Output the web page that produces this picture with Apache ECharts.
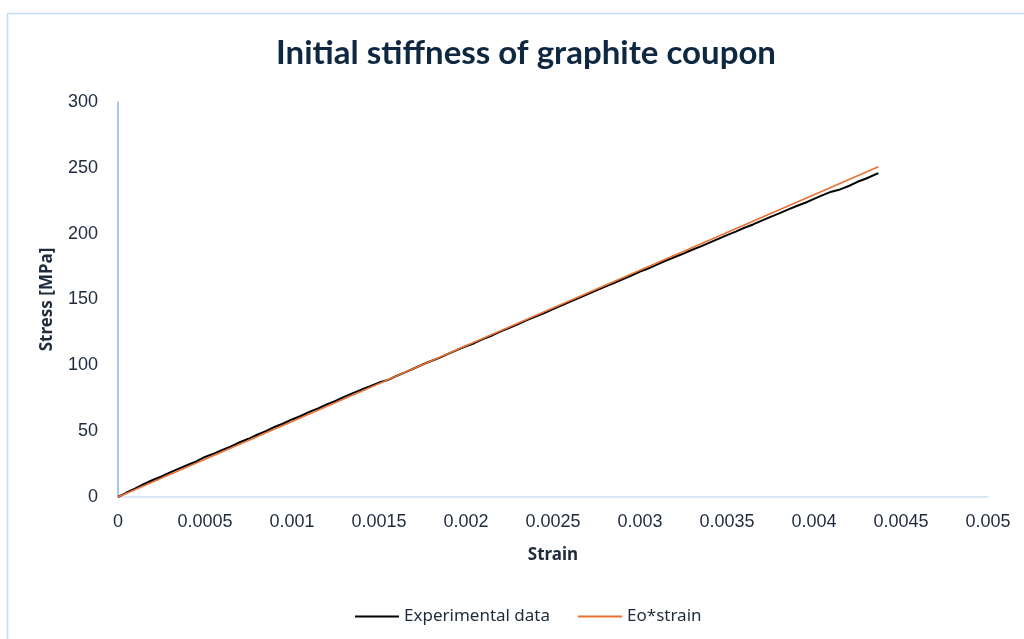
<!DOCTYPE html>
<html>
<head>
<meta charset="utf-8">
<script src="https://cdn.jsdelivr.net/npm/echarts@6/dist/echarts.min.js"></script>
<style>
  html, body { margin: 0; padding: 0; background: #ffffff; }
  #chart { width: 1024px; height: 639px; }
</style>
</head>
<body>
<div id="chart"></div>
<script>
// Strain readings of the coupon and the measured stress [MPa]
const strain = [
  0, 0.00005, 0.0001, 0.00015, 0.0002, 0.00025, 0.0003, 0.00035, 0.0004, 0.00045,
  0.0005, 0.00055, 0.0006, 0.00065, 0.0007, 0.00075, 0.0008, 0.00085, 0.0009, 0.00095,
  0.0010, 0.00105, 0.0011, 0.00115, 0.0012, 0.00125, 0.0013, 0.00135, 0.0014, 0.00145,
  0.0015, 0.00155, 0.0016, 0.00165, 0.0017, 0.00175, 0.0018, 0.00185, 0.0019, 0.00195,
  0.0020, 0.00205, 0.0021, 0.00215, 0.0022, 0.00225, 0.0023, 0.00235, 0.0024, 0.00245,
  0.0025, 0.00255, 0.0026, 0.00265, 0.0027, 0.00275, 0.0028, 0.00285, 0.0029, 0.00295,
  0.0030, 0.00305, 0.0031, 0.00315, 0.0032, 0.00325, 0.0033, 0.00335, 0.0034, 0.00345,
  0.0035, 0.00355, 0.0036, 0.00365, 0.0037, 0.00375, 0.0038, 0.00385, 0.0039, 0.00395,
  0.0040, 0.00405, 0.0041, 0.00415, 0.0042, 0.00425, 0.0043, 0.00437
];
const experimentalStress = [
  0, 3.4, 6.6, 9.9, 12.9, 15.6, 18.7, 21.6, 24.3, 27.0,
  30.4, 32.9, 35.8, 38.5, 41.6, 44.2, 47.3, 50.0, 53.2, 55.8,
  58.9, 61.5, 64.6, 67.2, 70.3, 72.9, 76.0, 78.9, 81.6, 84.1,
  86.9, 88.8, 91.9, 94.6, 97.6, 100.6, 103.3, 105.9, 108.9, 111.8,
  114.5, 117.0, 120.1, 122.7, 125.8, 128.4, 131.3, 134.3, 137.1, 139.7,
  142.8, 145.5, 148.5, 151.2, 154.2, 156.9, 159.8, 162.4, 165.4, 168.1,
  171.2, 173.7, 176.7, 179.6, 182.3, 184.8, 187.8, 190.4, 193.2, 196.0,
  198.9, 201.6, 204.5, 207.0, 209.9, 212.8, 215.4, 218.2, 221.0, 223.5,
  226.4, 229.3, 231.9, 233.6, 236.2, 239.4, 241.9, 246.0
];
// Linear elastic line Eo*strain (Eo = 57.4 GPa)
const fitStrain = [0, 0.001, 0.002, 0.003, 0.004, 0.00437];
const fitStress = [0, 57.4, 114.8, 172.2, 229.6, 250.84];

const xTicks = { min: 0, max: 0.005, interval: 0.0005 };
const yTicks = { min: 0, max: 300, interval: 50 };
const seriesNames = ['Experimental data', 'Eo*strain'];

const textColor = '#1e2b3c';
const pairs = (xs, ys) => xs.map((x, i) => [x, ys[i]]);

const chart = echarts.init(document.getElementById('chart'), null, { renderer: 'canvas' });
chart.setOption({
  animation: false,
  backgroundColor: '#ffffff',
  title: {
    text: 'Initial stiffness of graphite coupon',
    left: 521,
    top: 32,
    textAlign: 'center',
    textStyle: { fontFamily: 'Lato', fontWeight: 'bold', fontSize: 33, color: '#0e2841' }
  },
  graphic: [{
    type: 'rect',
    shape: { x: 7.5, y: 13.5, width: 1100, height: 700 },
    style: { fill: 'none', stroke: '#c8dcf1', lineWidth: 1.5 },
    silent: true
  }],
  grid: { left: 118, right: 36, top: 102, bottom: 142, containLabel: false },
  legend: {
    left: 350,
    top: 603,
    itemWidth: 44,
    itemHeight: 2,
    itemGap: 28,
    icon: 'rect',
    textStyle: { fontFamily: 'Noto Sans', fontSize: 17, color: textColor },
    data: seriesNames
  },
  xAxis: {
    type: 'value',
    min: xTicks.min, max: xTicks.max, interval: xTicks.interval,
    name: 'Strain',
    nameLocation: 'middle',
    nameGap: 50,
    nameTextStyle: { fontFamily: 'Noto Sans', fontWeight: 'bold', fontSize: 17, color: textColor },
    axisLine: { show: true, lineStyle: { color: '#d0e0f2', width: 1.5 } },
    axisTick: { show: false },
    splitLine: { show: false },
    axisLabel: {
      margin: 16,
      fontFamily: 'Liberation Sans', fontSize: 18, color: textColor,
      formatter: v => String(+v.toFixed(4))
    }
  },
  yAxis: {
    type: 'value',
    min: yTicks.min, max: yTicks.max, interval: yTicks.interval,
    name: 'Stress [MPa]',
    nameLocation: 'middle',
    nameGap: 62,
    nameTextStyle: { fontFamily: 'Noto Sans', fontWeight: 'bold', fontSize: 17, color: textColor },
    axisLine: { show: true, onZero: false, lineStyle: { color: '#8fb5e3', width: 1.5 } },
    axisTick: { show: false },
    splitLine: { show: false },
    axisLabel: { margin: 20, fontFamily: 'Liberation Sans', fontSize: 18, color: textColor }
  },
  series: [
    {
      name: seriesNames[0],
      type: 'line',
      data: pairs(strain, experimentalStress),
      showSymbol: false,
      symbol: 'none',
      lineStyle: { color: '#000000', width: 2 },
      itemStyle: { color: '#000000' },
      z: 2
    },
    {
      name: seriesNames[1],
      type: 'line',
      data: pairs(fitStrain, fitStress),
      showSymbol: false,
      symbol: 'none',
      lineStyle: { color: '#e97132', width: 1.6 },
      itemStyle: { color: '#e97132' },
      z: 3
    }
  ]
});
</script>
</body>
</html>
